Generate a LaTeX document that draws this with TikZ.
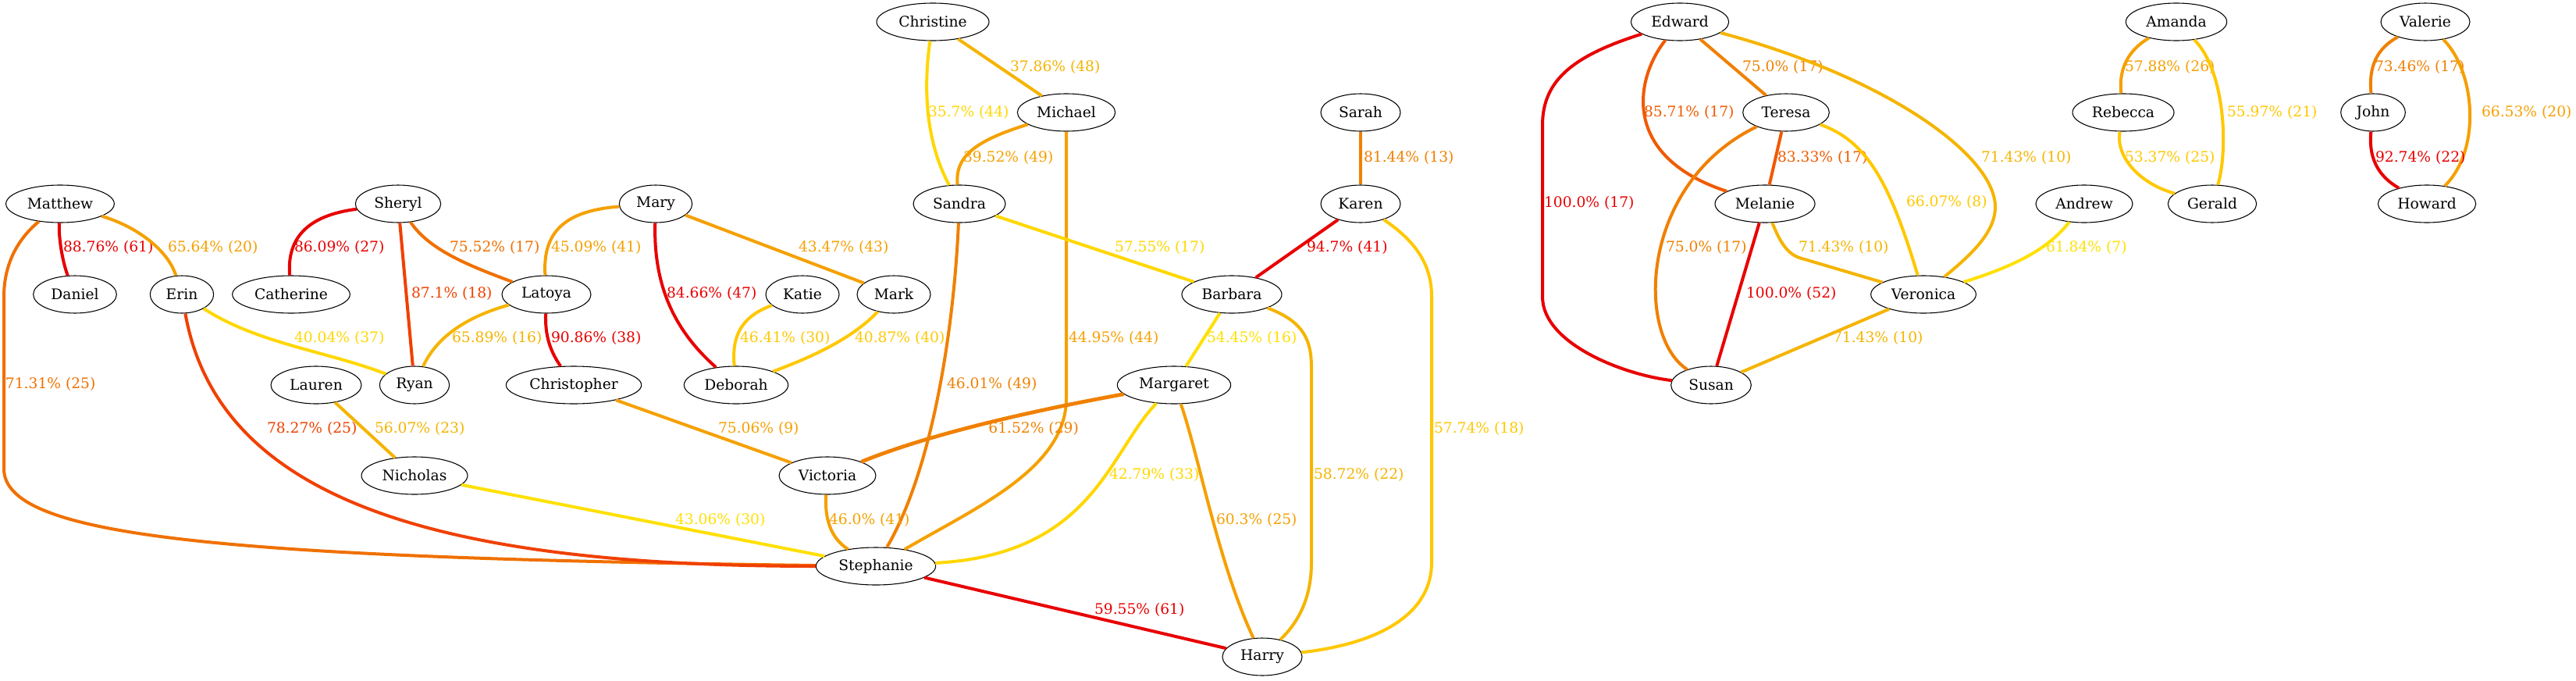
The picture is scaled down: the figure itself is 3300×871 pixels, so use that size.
\documentclass[tikz,border=0pt]{standalone}
\usepackage{fontspec}
\setmainfont{DejaVu Serif}
\usepackage{tikz}
\definecolor{cRed}{HTML}{E80000}
\definecolor{cRedOr}{HTML}{F04000}
\definecolor{cOrRed}{HTML}{F05A00}
\definecolor{cDkOr}{HTML}{F07000}
\definecolor{cOrange}{HTML}{F08000}
\definecolor{cAmber}{HTML}{F5A000}
\definecolor{cAmberL}{HTML}{F5B400}
\definecolor{cGold}{HTML}{FFC800}
\definecolor{cYel}{HTML}{FFD700}
\definecolor{cYelL}{HTML}{FFE000}
\tikzstyle{person}=[
        draw=black,
        line width=0.8pt,
        ellipse,
        inner sep=0pt,
        minimum height=36pt,
        font=\fontsize{14}{17}\selectfont
]
\tikzstyle{tie}=[
        line width=3pt
]
\tikzstyle{pct}=[
        anchor=west,
        inner sep=0pt,
        font=\fontsize{14}{17}\selectfont
]
\usetikzlibrary{shapes.geometric}

\begin{document}
\begin{tikzpicture}[x=0.75pt,y=-0.75pt]
                        \useasboundingbox (0,0) rectangle (3300,871);

                        \node[person, minimum width=104pt] (matthew) at (77,261) {Matthew};
                        \node[person, minimum width=80pt] (daniel) at (96,377) {Daniel};
                        \node[person, minimum width=61pt] (erin) at (233,377) {Erin};
                        \node[person, minimum width=113pt] (catherine) at (373,377) {Catherine};
                        \node[person, minimum width=82pt] (sheryl) at (510,261) {Sheryl};
                        \node[person, minimum width=67pt] (ryan) at (531,493) {Ryan};
                        \node[person, minimum width=87pt] (lauren) at (405,493) {Lauren};
                        \node[person, minimum width=85.5pt] (latoya) at (700,377) {Latoya};
                        \node[person, minimum width=70pt] (mary) at (840,261) {Mary};
                        \node[person, minimum width=70.5pt] (katie) at (1028,377) {Katie};
                        \node[person, minimum width=70.5pt] (mark) at (1145,377) {Mark};
                        \node[person, minimum width=130pt] (christopher) at (735,493) {Christopher};
                        \node[person, minimum width=100pt] (deborah) at (943,493) {Deborah};
                        \node[person, minimum width=102pt] (nicholas) at (531,609) {Nicholas};
                        \node[person, minimum width=108pt] (christine) at (1195,28) {Christine};
                        \node[person, minimum width=94pt] (michael) at (1366,144) {Michael};
                        \node[person, minimum width=88.5pt] (sandra) at (1229,261) {Sandra};
                        \node[person, minimum width=76.5pt] (sarah) at (1743,144) {Sarah};
                        \node[person, minimum width=76.5pt] (karen) at (1743,261) {Karen};
                        \node[person, minimum width=96pt] (barbara) at (1578,377) {Barbara};
                        \node[person, minimum width=109pt] (margaret) at (1504,493) {Margaret};
                        \node[person, minimum width=93pt] (victoria) at (1060,609) {Victoria};
                        \node[person, minimum width=115pt] (stephanie) at (1122,725) {Stephanie};
                        \node[person, minimum width=76.5pt] (harry) at (1617,841) {Harry};
                        \node[person, minimum width=94pt] (edward) at (2152,28) {Edward};
                        \node[person, minimum width=83pt] (teresa) at (2288,144) {Teresa};
                        \node[person, minimum width=96pt] (melanie) at (2261,261) {Melanie};
                        \node[person, minimum width=101pt] (veronica) at (2464,377) {Veronica};
                        \node[person, minimum width=77pt] (susan) at (2192,493) {Susan};
                        \node[person, minimum width=93pt] (andrew) at (2670,261) {Andrew};
                        \node[person, minimum width=97pt] (amanda) at (2788,28) {Amanda};
                        \node[person, minimum width=97.5pt] (rebecca) at (2720,144) {Rebecca};
                        \node[person, minimum width=85pt] (gerald) at (2834,261) {Gerald};
                        \node[person, minimum width=85.5pt] (valerie) at (3107,28) {Valerie};
                        \node[person, minimum width=62pt] (john) at (3040,144) {John};
                        \node[person, minimum width=94pt] (howard) at (3109,261) {Howard};

                        % left group
                        \draw[tie, cRed] (matthew) .. controls (75,305) and (80,335) .. (daniel)
                            node[pct] (l1) at (79,317) {88.76\% (61)};
                        \draw[tie, cAmber] (matthew) .. controls (175,290) and (215,320) .. (erin)
                            node[pct] (l2) at (213,317) {65.64\% (20)};
                        \draw[tie, cDkOr] (matthew) .. controls (30,300) and (5,330) .. (5,380) -- (5,600)
                            .. controls (5,685) and (260,714) .. (stephanie)
                            node[pct] (l3) at (5,492) {71.31\% (25)};
                        \draw[tie, cRed] (sheryl) .. controls (400,275) and (367,300) .. (catherine)
                            node[pct] (l4) at (375,317) {86.09\% (27)};
                        \draw[tie, cRedOr] (sheryl) -- (ryan)
                            node[pct] (l5) at (525,376) {87.1\% (18)};
                        \draw[tie, cDkOr] (sheryl) .. controls (550,320) and (600,340) .. (latoya)
                            node[pct] (l6) at (574,317) {75.52\% (17)};
                        \draw[tie, cAmber] (mary) .. controls (720,270) and (695,300) .. (latoya)
                            node[pct] (l7) at (704,317) {45.09\% (41)};
                        \draw[tie, cRed] (mary) .. controls (837,360) and (860,420) .. (deborah)
                            node[pct] (l8) at (852,376) {84.66\% (47)};
                        \draw[tie, cAmber] (mary) -- (mark)
                            node[pct] (l9) at (1021,317) {43.47\% (43)};
                        \draw[tie, cAmberL] (latoya) .. controls (600,405) and (560,430) .. (ryan)
                            node[pct] (l10) at (577,433) {65.89\% (16)};
                        \draw[tie, cRed] (latoya) .. controls (698,430) and (705,450) .. (christopher)
                            node[pct] (l11) at (704,433) {90.86\% (38)};
                        \draw[tie, cYel] (erin) .. controls (330,440) and (420,450) .. (ryan)
                            node[pct] (l12) at (375,433) {40.04\% (37)};
                        \draw[tie, cRedOr] (erin) .. controls (280,640) and (560,725) .. (stephanie)
                            node[pct] (l13) at (340,549) {78.27\% (25)};
                        \draw[tie, cAmberL] (lauren) -- (nicholas)
                            node[pct] (l14) at (478,549) {56.07\% (23)};
                        \draw[tie, cYelL] (nicholas) -- (stephanie)
                            node[pct] (l15) at (863,666) {43.06\% (30)};
                        \draw[tie, cAmber] (christopher) -- (victoria)
                            node[pct] (l16) at (918,549) {75.06\% (9)};
                        \draw[tie, cGold] (katie) .. controls (950,405) and (937,430) .. (deborah)
                            node[pct] (l17) at (946,433) {46.41\% (30)};
                        \draw[tie, cGold] (mark) .. controls (1100,425) and (1060,450) .. (deborah)
                            node[pct] (l18) at (1093,433) {40.87\% (40)};

                        % middle group
                        \draw[tie, cYel] (christine) .. controls (1183,110) and (1185,180) .. (sandra)
                            node[pct] (l19) at (1187,144) {35.7\% (44)};
                        \draw[tie, cAmberL] (christine) -- (michael)
                            node[pct] (l20) at (1292,86) {37.86\% (48)};
                        \draw[tie, cAmber] (michael) .. controls (1250,180) and (1223,200) .. (sandra)
                            node[pct] (l21) at (1232,202) {39.52\% (49)};
                        \draw[tie, cAmber] (michael) -- (1366,510) .. controls (1366,600) and (1250,650) .. (stephanie)
                            node[pct] (l22) at (1367,433) {44.95\% (44)};
                        \draw[tie, cOrange] (sandra) .. controls (1222,420) and (1195,600) .. (stephanie)
                            node[pct] (l23) at (1211,492) {46.01\% (49)};
                        \draw[tie, cYel] (sandra) -- (barbara)
                            node[pct] (l24) at (1426,317) {57.55\% (17)};
                        \draw[tie, cOrange] (sarah) -- (karen)
                            node[pct] (l25) at (1745,202) {81.44\% (13)};
                        \draw[tie, cRed] (karen) -- (barbara)
                            node[pct] (l26) at (1672,317) {94.7\% (41)};
                        \draw[tie, cGold] (karen) .. controls (1815,310) and (1834,340) .. (1834,380) -- (1834,720)
                            .. controls (1834,790) and (1760,825) .. (harry)
                            node[pct] (l27) at (1835,549) {57.74\% (18)};
                        \draw[tie, cYelL] (barbara) -- (margaret)
                            node[pct] (l28) at (1544,433) {54.45\% (16)};
                        \draw[tie, cAmberL] (barbara) .. controls (1665,410) and (1680,430) .. (1680,470) -- (1680,720)
                            .. controls (1680,770) and (1660,800) .. (harry)
                            node[pct] (l29) at (1681,608) {58.72\% (22)};
                        \draw[tie, cOrange, line width=3.6pt] (margaret) .. controls (1300,530) and (1180,560) .. (victoria)
                            node[pct] (l30) at (1264,549) {61.52\% (29)};
                        \draw[tie, cYel] (margaret) .. controls (1420,580) and (1400,710) .. (stephanie)
                            node[pct] (l31) at (1419,608) {42.79\% (33)};
                        \draw[tie, cAmber] (margaret) .. controls (1535,580) and (1560,720) .. (harry)
                            node[pct] (l32) at (1556,666) {60.3\% (25)};
                        \draw[tie, cAmber] (victoria) .. controls (1056,665) and (1065,690) .. (stephanie)
                            node[pct] (l33) at (1060,666) {46.0\% (41)};
                        \draw[tie, cRed] (stephanie) -- (harry)
                            node[pct] (l34) at (1400,781) {59.55\% (61)};

                        % right group
                        \draw[tie, cRed] (edward) .. controls (2020,70) and (1976,100) .. (1976,160) -- (1976,380)
                            .. controls (1976,440) and (2080,480) .. (susan)
                            node[pct] (l35) at (1976,260) {100.0\% (17)};
                        \draw[tie, cOrRed] (edward) .. controls (2095,100) and (2075,200) .. (melanie)
                            node[pct] (l36) at (2104,144) {85.71\% (17)};
                        \draw[tie, cOrange] (edward) -- (teresa)
                            node[pct] (l37) at (2230,86) {75.0\% (17)};
                        \draw[tie, cAmberL] (edward) .. controls (2420,100) and (2556,200) .. (2556,265)
                            .. controls (2556,300) and (2520,330) .. (veronica)
                            node[pct] (l38) at (2536,202) {71.43\% (10)};
                        \draw[tie, cOrRed] (teresa) -- (melanie)
                            node[pct] (l39) at (2275,202) {83.33\% (17)};
                        \draw[tie, cOrange] (teresa) .. controls (2100,235) and (2095,430) .. (susan)
                            node[pct] (l40) at (2132,317) {75.0\% (17)};
                        \draw[tie, cGold] (teresa) .. controls (2390,180) and (2420,230) .. (veronica)
                            node[pct] (l41) at (2440,259) {66.07\% (8)};
                        \draw[tie, cRed] (melanie) -- (susan)
                            node[pct] (l42) at (2235,376) {100.0\% (52)};
                        \draw[tie, cAmberL] (melanie) .. controls (2280,310) and (2290,325) .. (2305,330) -- (veronica)
                            node[pct] (l43) at (2302,317) {71.43\% (10)};
                        \draw[tie, cAmberL] (veronica) -- (susan)
                            node[pct] (l44) at (2346,433) {71.43\% (10)};
                        \draw[tie, cYelL] (andrew) .. controls (2630,310) and (2600,335) .. (veronica)
                            node[pct] (l45) at (2619,317) {61.84\% (7)};
                        \draw[tie, cAmber] (amanda) .. controls (2725,65) and (2714,90) .. (rebecca)
                            node[pct] (l46) at (2720,86) {57.88\% (26)};
                        \draw[tie, cGold] (amanda) .. controls (2850,90) and (2855,190) .. (gerald)
                            node[pct] (l47) at (2851,144) {55.97\% (21)};
                        \draw[tie, cGold] (rebecca) .. controls (2710,200) and (2740,235) .. (gerald)
                            node[pct] (l48) at (2720,202) {53.37\% (25)};
                        \draw[tie, cOrange] (valerie) .. controls (3045,62) and (3034,85) .. (john)
                            node[pct] (l49) at (3040,86) {73.46\% (17)};
                        \draw[tie, cAmber] (valerie) .. controls (3170,90) and (3180,190) .. (howard)
                            node[pct] (l50) at (3177,144) {66.53\% (20)};
                        \draw[tie, cRed] (john) .. controls (3034,200) and (3045,225) .. (howard)
                            node[pct] (l51) at (3041,202) {92.74\% (22)};

                    \end{tikzpicture}
\end{document}
